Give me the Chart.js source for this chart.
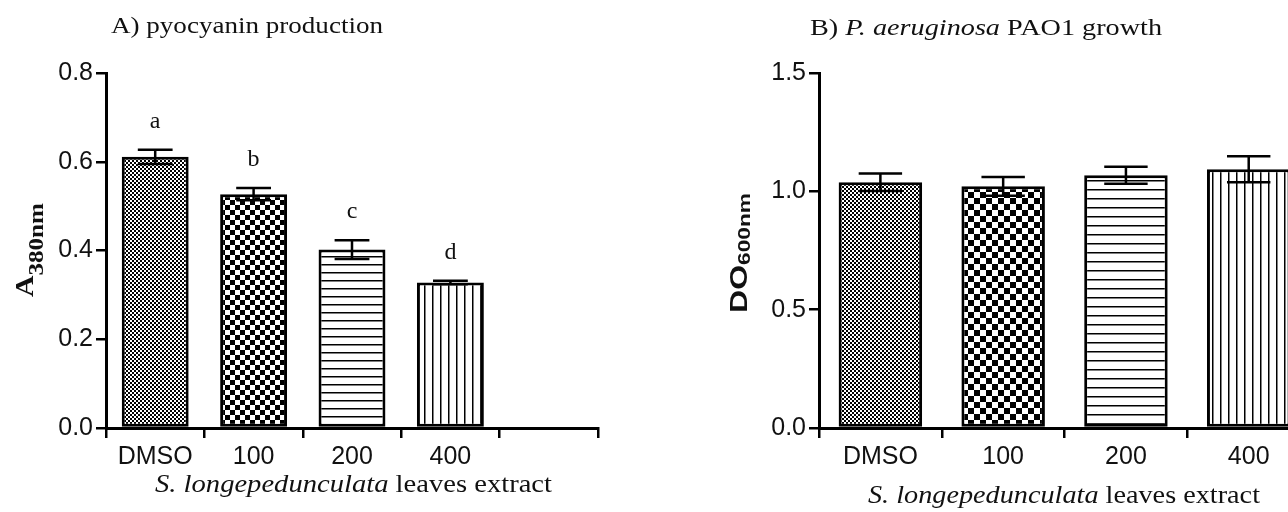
<!DOCTYPE html>
<html>
<head>
<meta charset="utf-8">
<script src="https://cdn.jsdelivr.net/npm/chart.js@4.4.1/dist/chart.umd.min.js"></script>
<style>
  html, body { margin: 0; padding: 0; background: #fff; }
  #wrap { position: relative; width: 1288px; height: 512px; overflow: hidden; }
  .box { position: absolute; top: 0; width: 644px; height: 512px; }
  #boxA { left: 0; }
  #boxB { left: 644px; }
</style>
</head>
<body>
<div id="wrap">
  <div class="box" id="boxA"><canvas id="chartA"></canvas></div>
  <div class="box" id="boxB"><canvas id="chartB"></canvas></div>
</div>
<script>
// ---- data ----
const categoriesA = ['DMSO', '100', '200', '400', ''];
const pyocyanin = [0.611, 0.527, 0.402, 0.328];
const pyocyaninErr = [0.016, 0.014, 0.021, 0.004];
const letters = ['a', 'b', 'c', 'd'];
const yTicksA = [0, 0.2, 0.4, 0.6, 0.8];

const categoriesB = ['DMSO', '100', '200', '400'];
const growth = [1.038, 1.021, 1.068, 1.093];
const growthErr = [0.037, 0.040, 0.036, 0.055];
const yTicksB = [0, 0.5, 1.0, 1.5];

const SERIF = '"Liberation Serif", "Times New Roman", serif';
const SANS = '"Liberation Sans", Arial, sans-serif';
const INK = '#111';

// ---- fill patterns ----
const patCtx = document.createElement('canvas').getContext('2d');
function makePattern(w, h, draw){
  const c = document.createElement('canvas');
  c.width = w; c.height = h;
  const g = c.getContext('2d');
  g.fillStyle = '#fff';
  g.fillRect(0, 0, w, h);
  g.fillStyle = '#000';
  draw(g, w, h);
  return patCtx.createPattern(c, 'repeat');
}
function checker(cell){
  return makePattern(cell*2, cell*2, g => { g.fillRect(0, 0, cell, cell); g.fillRect(cell, cell, cell, cell); });
}
function hLines(gap){
  return makePattern(4, gap, g => { g.fillRect(0, 0, 4, 1.5); });
}
function vLines(gap){
  return makePattern(gap, 4, g => { g.fillRect(0, 0, 1.5, 4); });
}
const patternsA = [checker(2), checker(5), hLines(8), vLines(8)];
const patternsB = [checker(2), checker(6), hLines(9), vLines(8)];

// ---- text helpers ----
// draws a run of differently styled pieces, stretched to the width seen in the figure
function drawLabel(ctx, lbl){
  ctx.save();
  ctx.translate(lbl.x, lbl.y);
  if(lbl.rotate) ctx.rotate(-Math.PI/2);
  let total = 0;
  lbl.parts.forEach(p => { ctx.font = p.font; total += ctx.measureText(p.text).width; });
  const sx = lbl.width ? lbl.width / total : 1;
  const start = lbl.align === 'center' ? -total*sx/2 : 0;
  ctx.scale(sx, 1);
  let cx = start / sx;
  ctx.fillStyle = INK;
  ctx.textAlign = 'left';
  ctx.textBaseline = 'alphabetic';
  lbl.parts.forEach(p => {
    ctx.font = p.font;
    ctx.fillText(p.text, cx, p.dy || 0);
    cx += ctx.measureText(p.text).width;
  });
  ctx.restore();
}

function textPlugin(labels){
  return { id: 'texts', afterDraw(chart){ labels.forEach(l => drawLabel(chart.ctx, l)); } };
}

function errorPlugin(errors, marks){
  return {
    id: 'errorBars',
    afterDatasetsDraw(chart){
      const ctx = chart.ctx, y = chart.scales.y;
      const meta = chart.getDatasetMeta(0);
      const vals = chart.data.datasets[0].data;
      ctx.save();
      ctx.strokeStyle = '#000';
      ctx.lineWidth = 2.5;
      meta.data.forEach((bar, i) => {
        const v = vals[i].y, e = errors[i];
        const top = y.getPixelForValue(v + e), bot = y.getPixelForValue(v - e);
        const half = bar.width * 0.26;
        ctx.beginPath();
        ctx.moveTo(bar.x, top); ctx.lineTo(bar.x, bot);
        ctx.moveTo(bar.x - half, top); ctx.lineTo(bar.x + half, top);
        ctx.moveTo(bar.x - half, bot); ctx.lineTo(bar.x + half, bot);
        ctx.stroke();
        if(marks){
          ctx.fillStyle = INK;
          ctx.font = '24px ' + SERIF;
          ctx.textAlign = 'center';
          ctx.textBaseline = 'alphabetic';
          ctx.fillText(marks[i], bar.x, top - 22);
        }
      });
      ctx.restore();
    }
  };
}

// ---- chart builder ----
function buildChart(canvasId, cats, values, errors, ticksY, patterns, opts){
  const nBars = values.length;
  return new Chart(document.getElementById(canvasId), {
    type: 'bar',
    data: {
      datasets: [{
        data: values.map((v, i) => ({ x: i, y: v })),
        backgroundColor: patterns.slice(0, nBars),
        borderColor: '#000',
        borderWidth: 3,
        borderSkipped: false,
        barPercentage: 0.68,
        categoryPercentage: 1
      }]
    },
    options: {
      responsive: true,
      maintainAspectRatio: false,
      animation: false,
      layout: { padding: { left: 0, right: opts.padRight, top: 73, bottom: 0 } },
      plugins: { legend: { display: false }, tooltip: { enabled: false } },
      scales: {
        x: {
          type: 'linear',
          min: -0.5,
          max: opts.xMax,
          offset: false,
          afterBuildTicks: s => { s.ticks = cats.map((c, i) => ({ value: i })); },
          afterFit: s => { s.height = 84; },
          ticks: {
            callback: v => cats[v] ?? '',
            font: { family: SANS, size: 25 },
            color: INK,
            padding: 4,
            autoSkip: false,
            maxRotation: 0
          },
          grid: { drawOnChartArea: false, color: '#000', lineWidth: 2.5, tickLength: 10 },
          border: { color: '#000', width: 3 }
        },
        y: {
          min: ticksY[0],
          max: ticksY[ticksY.length - 1],
          afterBuildTicks: s => { s.ticks = ticksY.map(v => ({ value: v })); },
          afterFit: s => { s.width = opts.axisLeft; },
          ticks: {
            callback: v => Number(v).toFixed(1),
            font: { family: SANS, size: 25 },
            color: INK,
            padding: 3
          },
          grid: { drawOnChartArea: false, color: '#000', lineWidth: 2.5, tickLength: 10 },
          border: { color: '#000', width: 3 }
        }
      }
    },
    plugins: [errorPlugin(errors, opts.letters), textPlugin(opts.labels)]
  });
}

buildChart('chartA', categoriesA, pyocyanin, pyocyaninErr, yTicksA, patternsA, {
  xMax: 4.5, padRight: 46, axisLeft: 106, letters: letters,
  labels: [
    { x: 111, y: 33, width: 272, parts: [{ text: 'A) pyocyanin production', font: '23px ' + SERIF }] },
    { x: 155, y: 492, width: 397, parts: [
      { text: 'S. longepedunculata', font: 'italic 25px ' + SERIF },
      { text: ' leaves extract', font: '25px ' + SERIF }] },
    { x: 33, y: 250, rotate: true, align: 'center', width: 94, parts: [
      { text: 'A', font: 'bold 26px ' + SERIF },
      { text: '380nm', font: 'bold 22px ' + SERIF, dy: 10 }] }
  ]
});

buildChart('chartB', categoriesB, growth, growthErr, yTicksB, patternsB, {
  xMax: 3.32, padRight: 0, axisLeft: 175, letters: null,
  labels: [
    { x: 166, y: 35, width: 352, parts: [
      { text: 'B) ', font: '23px ' + SERIF },
      { text: 'P. aeruginosa', font: 'italic 23px ' + SERIF },
      { text: ' PAO1 growth', font: '23px ' + SERIF }] },
    { x: 224, y: 503, width: 392, parts: [
      { text: 'S. longepedunculata', font: 'italic 25px ' + SERIF },
      { text: ' leaves extract', font: '25px ' + SERIF }] },
    { x: 103, y: 253, rotate: true, align: 'center', width: 120, parts: [
      { text: 'DO', font: 'bold 24px ' + SANS },
      { text: '600nm', font: 'bold 17px ' + SANS, dy: 3 }] }
  ]
});
</script>
</body>
</html>
